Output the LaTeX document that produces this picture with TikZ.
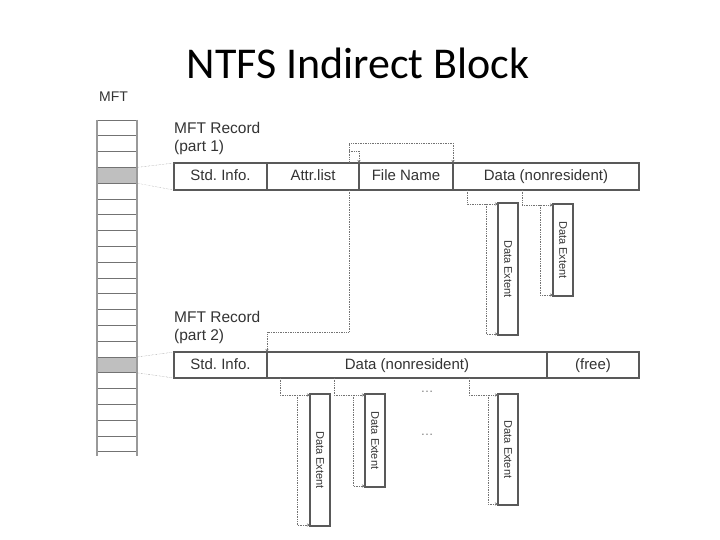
\documentclass[tikz,border=0pt]{standalone}
\usepackage{graphicx}
\usepackage{fontspec}
\setmainfont{Liberation Sans}
\newfontfamily\titlefont{Carlito}
\usetikzlibrary{positioning,arrows.meta}
\frenchspacing

\begin{document}
\begin{tikzpicture}[x=1pt,y=-1pt,
  cell/.style={draw=black!65,line width=1.1pt,minimum height=27pt,inner sep=0pt,outer sep=0pt,text height=11pt,text depth=3pt,text=black!80,font=\fontsize{15}{18}\selectfont},
  extent/.style={draw=black!65,line width=1.1pt,minimum width=20pt,inner sep=0pt,outer sep=0pt,text=black!80,font=\fontsize{11}{13}\selectfont},
  mftrow/.style={draw=black!55,line width=.8pt,minimum width=40pt,minimum height=15.8pt,inner sep=0pt,outer sep=0pt},
  link/.style={densely dotted,black!55,line width=.7pt,-{Stealth[length=3pt,width=3pt]}},
  tag/.style={align=left,text=black!80,font=\fontsize{15.5}{18}\selectfont,inner sep=0pt},
  dots/.style={text=black!50,font=\fontsize{13}{15}\selectfont}]
\useasboundingbox (0,0) rectangle (720,540);

\node[font=\titlefont\fontsize{44}{52}\selectfont,anchor=base] (title) at (358,79) {NTFS Indirect Block};

% the MFT column
\node[tag,anchor=north west,font=\fontsize{14}{16}\selectfont] (mft) at (99,92) {MFT};
\foreach \i in {0,...,20}{
  \ifnum\i=3 \def\f{black!25}\else\ifnum\i=15 \def\f{black!25}\else\def\f{white}\fi\fi
  \node[mftrow,fill=\f,anchor=north] (r\i) at (117,{120+15.8*\i}) {};}
\draw[black!40,line width=2.5pt] (r0.north west) -- ([yshift=-4pt]r20.south west);
\draw[black!40,line width=2.5pt] (r0.north east) -- ([yshift=-4pt]r20.south east);

% record, part 1
\node[tag,anchor=north west] (lab1) at (174,122) {MFT Record\\(part 1)};
\node[cell,minimum width=93pt,anchor=north west] (si1) at (174,163) {Std. Info.};
\node[cell,minimum width=92pt,right=0pt of si1] (al1) {Attr.list};
\node[cell,minimum width=94pt,right=0pt of al1] (fn1) {File Name};
\node[cell,minimum width=186pt,right=0pt of fn1] (dt1) {Data (nonresident)};

% record, part 2
\node[tag,anchor=north west] (lab2) at (174,311) {MFT Record\\(part 2)};
\node[cell,minimum width=93pt,minimum height=26pt,anchor=north west] (si2) at (174,352) {Std. Info.};
\node[cell,minimum width=280pt,minimum height=26pt,right=0pt of si2] (dt2) {Data (nonresident)};
\node[cell,minimum width=92pt,minimum height=26pt,right=0pt of dt2] (fr2) {(free)};

\draw[densely dotted,black!50] (r3.north east) -- (si1.north west);
\draw[densely dotted,black!50] (r3.south east) -- (si1.south west);
\draw[densely dotted,black!50] (r15.north east) -- (si2.north west);
\draw[densely dotted,black!50] (r15.south east) -- (si2.south west);

% extents
\node[extent,minimum height=132pt,anchor=north west] (eA) at (498,203) {\rotatebox{-90}{Data Extent}};
\node[extent,minimum height=92pt,anchor=north west] (eB) at (553,204) {\rotatebox{-90}{Data Extent}};
\node[extent,minimum height=132pt,anchor=north west] (eC) at (310,394) {\rotatebox{-90}{Data Extent}};
\node[extent,minimum height=93pt,anchor=north west] (eD) at (365,394) {\rotatebox{-90}{Data Extent}};
\node[extent,minimum height=111pt,anchor=north west] (eE) at (498,394) {\rotatebox{-90}{Data Extent}};
\node[dots] (g1) at (427,392) {\dots};
\node[dots] (g2) at (427,435) {\dots};

\foreach \e/\r/\dx/\bx in {eA/dt1/14/12,eB/dt1/69/13,eC/dt2/13/13,eD/dt2/67/12,eE/dt2/202/10}{
  \draw[link] ([xshift=\dx pt]\r.south west) |- ([yshift=-1pt]\e.north west);
  \draw[link] ([xshift=-\bx pt,yshift=-1pt]\e.north west) |- ([yshift=1pt]\e.south west);}

% attribute list pointers
\draw[link] ([xshift=-10pt]al1.north east) -- ++(0,-20) -| (fn1.north east);
\draw[link] ([xshift=-10pt,yshift=12pt]al1.north east) -| (fn1.north west);
\draw[link] ([xshift=-10pt]al1.south east) -- ++(0,142) -| (dt2.north west);
\end{tikzpicture}
\end{document}
